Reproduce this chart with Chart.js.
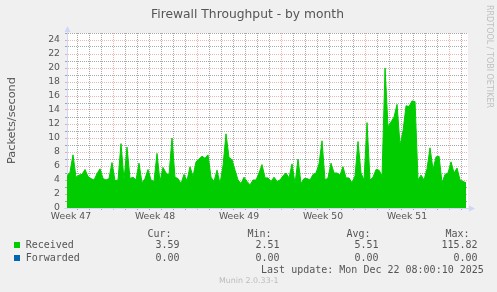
<!doctype html>
<html lang="en">
<head>
<meta charset="utf-8">
<title>Firewall Throughput - by month</title>
<script src="https://cdn.jsdelivr.net/npm/chart.js@4.4.1/dist/chart.umd.min.js"></script>
<style>
  body { margin: 0; background: #F0F0F0; }
  #wrap { position: relative; width: 497px; height: 292px; overflow: hidden; font-family: "DejaVu Sans", sans-serif; color: #555; }
  #wrap canvas { position: absolute; left: 0; top: 0; }
  .txt { position: absolute; white-space: nowrap; }
  .mono { font-family: "DejaVu Sans Mono", monospace; font-size: 10px; line-height: 12px; }
  .r { text-align: right; }
  .box { position: absolute; width: 6px; height: 6px; }
</style>
</head>
<body>
<div id="wrap">
  <canvas id="myChart" width="497" height="292"></canvas>
</div>
<script>
// week labels sit in the middle of each week, days are counted from the Week 48 line
const weekLabels = ["Week 47", "Week 48", "Week 49", "Week 50", "Week 51"];
const weekCenters = [-3.5, 3.5, 10.5, 17.5, 24.5];
const dayStart = -23 / 6;   // left edge of the graph, in days
const dayEnd = 29.58;
const sampleStep = 0.25;    // one sample every 6 hours

// Received, packets/second
const received = [
  4.6, 5.1, 7.6, 4.4, 4.7, 4.8, 5.5, 4.5, 4.2, 4.0,
  4.9, 5.6, 4.2, 4.0, 4.2, 6.5, 3.9, 4.0, 9.2, 4.0,
  8.7, 4.2, 4.4, 4.0, 6.4, 3.6, 4.2, 5.5, 4.0, 3.8,
  7.8, 3.8, 5.8, 5.0, 4.7, 10.0, 4.4, 4.2, 3.5, 4.8,
  3.9, 5.9, 4.5, 6.6, 7.0, 7.4, 7.1, 7.6, 4.4, 3.8,
  5.4, 3.5, 6.0, 10.6, 7.2, 6.9, 5.4, 4.0, 3.5, 4.4,
  3.8, 3.3, 4.0, 4.0, 5.0, 6.2, 4.3, 4.3, 3.8, 4.4,
  3.8, 4.0, 4.6, 5.0, 4.3, 6.3, 3.5, 7.0, 3.5, 4.2,
  4.2, 4.0, 4.8, 5.0, 6.3, 9.6, 4.0, 4.3, 6.4, 5.0,
  5.0, 4.7, 5.9, 4.3, 4.3, 3.6, 4.6, 9.5, 5.0, 4.0,
  12.2, 4.0, 4.4, 5.5, 5.4, 4.6, 20.0, 11.6, 12.3, 13.0,
  14.8, 9.0, 11.0, 14.6, 14.5, 15.3, 15.2, 4.0, 4.7, 4.0,
  5.6, 8.6, 5.5, 7.3, 7.4, 3.6, 4.8, 5.0, 6.6, 5.0,
  5.7, 4.0, 3.8, 3.6
];

// legend table
const seriesNames = ["Received", "Forwarded"];
const seriesColors = ["#00CC00", "#0066B3"];
const curValues = ["3.59", "0.00"];
const minValues = ["2.51", "0.00"];
const avgValues = ["5.51", "0.00"];
const maxValues = ["115.82", "0.00"];

const points = received.map((v, i) => ({ x: dayStart + i * sampleStep, y: v }));

const redGrid = "rgba(215, 60, 60, 0.38)";
const grayGrid = "rgba(100, 100, 100, 0.55)";
const axisColor = "#CFD6F8";
const tickFont = { family: "DejaVu Sans", size: 9.3 };

// white canvas under the graph, arrows on the axes
const munin = {
  id: "munin",
  beforeDraw(chart) {
    const a = chart.chartArea, ctx = chart.ctx;
    ctx.save();
    ctx.fillStyle = "#FFFFFF";
    ctx.fillRect(a.left, a.top, a.right - a.left, a.bottom - a.top);
    ctx.restore();
  },
  afterDraw(chart) {
    const a = chart.chartArea, ctx = chart.ctx;
    ctx.save();
    ctx.strokeStyle = axisColor;
    ctx.fillStyle = axisColor;
    ctx.lineWidth = 1;
    ctx.beginPath();
    ctx.moveTo(a.left + 0.5, a.top);
    ctx.lineTo(a.left + 0.5, a.top - 3);
    ctx.moveTo(a.left - 3, a.bottom + 0.5);
    ctx.lineTo(a.left, a.bottom + 0.5);
    ctx.moveTo(a.right, a.bottom + 0.5);
    ctx.lineTo(a.right + 2, a.bottom + 0.5);
    ctx.stroke();
    ctx.beginPath();
    ctx.moveTo(a.left + 0.5, a.top - 7);
    ctx.lineTo(a.left - 2.5, a.top - 1);
    ctx.lineTo(a.left + 3.5, a.top - 1);
    ctx.closePath();
    ctx.fill();
    ctx.beginPath();
    ctx.moveTo(a.right + 7, a.bottom + 0.5);
    ctx.lineTo(a.right + 1, a.bottom - 2.5);
    ctx.lineTo(a.right + 1, a.bottom + 3.5);
    ctx.closePath();
    ctx.fill();
    ctx.restore();
  }
};

new Chart(document.getElementById("myChart"), {
  type: "line",
  data: {
    datasets: [{
      label: seriesNames[0],
      data: points,
      borderColor: seriesColors[0],
      backgroundColor: seriesColors[0],
      borderWidth: 1,
      pointRadius: 0,
      tension: 0,
      fill: "origin"
    }]
  },
  options: {
    responsive: false,
    animation: false,
    layout: { padding: { left: 0, top: 33, right: 29, bottom: 64 } },
    plugins: { legend: { display: false }, title: { display: false }, tooltip: { enabled: false } },
    scales: {
      x: {
        type: "linear",
        min: dayStart,
        max: dayEnd,
        z: 1,
        afterFit: s => { s.height = 20; },
        afterBuildTicks: s => {
          const vals = [];
          for (let d = -3; d <= 29; d++) vals.push(d);
          weekCenters.forEach(c => vals.push(c));
          vals.sort((a, b) => a - b);
          s.ticks = vals.map(v => ({ value: v }));
        },
        grid: {
          color: c => {
            const v = c.tick ? c.tick.value : 0;
            if (!Number.isInteger(v)) return "rgba(0,0,0,0)";
            return v % 7 === 0 ? redGrid : grayGrid;
          },
          tickLength: 2
        },
        border: { color: axisColor, dash: [1, 1] },
        ticks: {
          autoSkip: false,
          maxRotation: 0,
          padding: 1,
          color: "#555",
          font: tickFont,
          callback: v => {
            const k = weekCenters.indexOf(v);
            return k >= 0 ? weekLabels[k] : "";
          }
        }
      },
      y: {
        min: 0,
        max: 25,
        z: 1,
        afterFit: s => { s.width = 67; },
        grid: {
          color: c => (c.tick && c.tick.value % 2 === 0) ? redGrid : grayGrid,
          tickLength: 2
        },
        border: { color: axisColor, dash: [1, 1] },
        ticks: {
          stepSize: 1,
          autoSkip: false,
          padding: 5,
          color: "#555",
          font: tickFont,
          callback: v => (v % 2 === 0 && v < 25) ? String(v) : ""
        }
      }
    }
  },
  plugins: [munin]
});

// texts around the graph
const wrap = document.getElementById("wrap");
function addText(text, css, cls) {
  const d = document.createElement("div");
  d.className = "txt " + (cls || "");
  d.textContent = text;
  Object.assign(d.style, css);
  wrap.appendChild(d);
  return d;
}

addText("Firewall Throughput - by month", { left: "0px", width: "495px", top: "6.5px", textAlign: "center", fontSize: "12.3px", lineHeight: "15px" });
addText("Packets/second", { left: "4.6px", top: "164px", fontSize: "11.3px", lineHeight: "13px", transformOrigin: "0 0", transform: "rotate(-90deg)" });
addText("RRDTOOL / TOBI OETIKER", { left: "493.5px", top: "5px", fontSize: "8px", lineHeight: "10px", color: "#c0c0c0", transformOrigin: "0 0", transform: "rotate(90deg)" });

const colRight = [179.5, 279.5, 378.5, 477.5];
const heads = ["Cur:", "Min:", "Avg:", "Max:"];
heads.forEach((h, k) => {
  addText(h, { right: (497 - colRight[k] + 8) + "px", top: "228px" }, "mono r");
});
const rowTop = [239.2, 251.5];
seriesNames.forEach((name, r) => {
  const b = document.createElement("div");
  b.className = "box";
  b.style.left = "14px";
  b.style.top = (r === 0 ? 242 : 254.5) + "px";
  b.style.background = seriesColors[r];
  wrap.appendChild(b);
  addText(name, { left: "25.7px", top: rowTop[r] + "px" }, "mono");
  [curValues, minValues, avgValues, maxValues].forEach((arr, k) => {
    addText(arr[r], { right: (497 - colRight[k]) + "px", top: rowTop[r] + "px" }, "mono r");
  });
});
addText("Last update: Mon Dec 22 08:00:10 2025", { right: (497 - 483.8) + "px", top: "263.9px" }, "mono r");
addText("Munin 2.0.33-1", { left: "0px", width: "497.6px", top: "276.3px", textAlign: "center", fontSize: "7.9px", lineHeight: "10px", color: "#bbb" });
</script>
</body>
</html>
